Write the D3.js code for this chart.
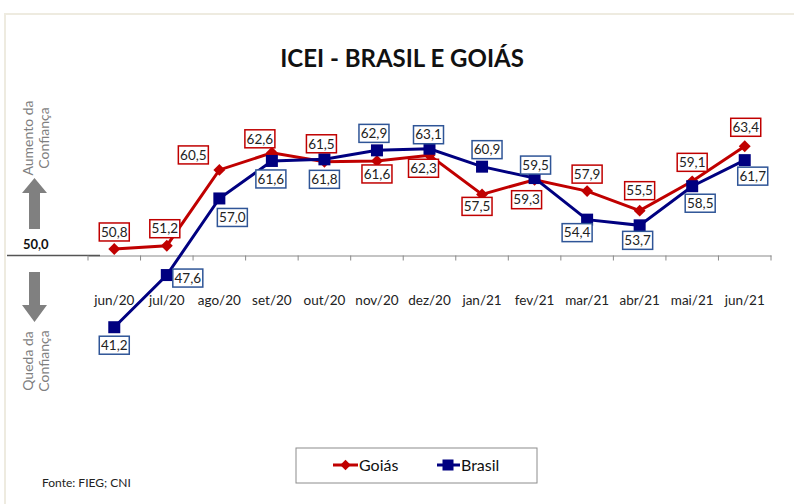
<!DOCTYPE html>
<html>
<head>
<meta charset="UTF-8">
<title>ICEI - Brasil e Goiás</title>
<style>
  body { margin: 0; background: #fff; }
  svg { display: block; font-family: Lato, "Open Sans", sans-serif; }
</style>
</head>
<body>
<script src="https://cdn.jsdelivr.net/npm/d3@7"></script>
<script>
// dados
var months = ["jun/20","jul/20","ago/20","set/20","out/20","nov/20","dez/20","jan/21","fev/21","mar/21","abr/21","mai/21","jun/21"]
var goias  = [50.8, 51.2, 60.5, 62.6, 61.5, 61.6, 62.3, 57.5, 59.3, 57.9, 55.5, 59.1, 63.4]
var brasil = [41.2, 47.6, 57.0, 61.6, 61.8, 62.9, 63.1, 60.9, 59.5, 54.4, 53.7, 58.5, 61.7]
var baseLine = 50

// deslocamento das etiquetas (layout, nao dados)
var goiasLabelPos  = [[0,-17],[-2,-17],[-26,-15],[-12,-14],[-3,-18],[0,13],[-6,13],[-5,12],[-8,20],[0,-17],[0,-20],[0,-19],[1,-19]]
var brasilLabelPos = [[0,18],[21,3],[13,19],[-1,18],[0,20],[-3,-17],[-1,-14],[5,-17],[1,-13],[-10,13],[-2,15],[8,17],[8,16]]

var width = 794, height = 504
var red = "#c00000", navy = "#000080"

var svg = d3.select("body").append("svg")
    .attr("width", width)
    .attr("height", height)

// moldura bege
svg.append("path")
    .attr("d", "M5,504 V14 H794")
    .attr("fill", "none")
    .attr("stroke", "#eeebe0")
    .attr("stroke-width", 2)

// titulo
svg.append("text")
    .attr("x", 402).attr("y", 67)
    .attr("text-anchor", "middle")
    .attr("font-size", "24px")
    .attr("font-weight", "bold")
    .attr("fill", "#111")
    .text("ICEI - BRASIL E GOIÁS")

// escalas
var x = d3.scaleBand().domain(months).range([88, 771])
var y = d3.scaleLinear().domain([40, 65]).range([337, 133.25])
var cx = function(d, i) { return x(months[i]) + x.bandwidth() / 2 }

// eixo em 50
var axisG = svg.append("g")
    .attr("transform", "translate(0," + y(baseLine) + ")")
    .call(d3.axisBottom(x).tickSize(0).tickPadding(40))
axisG.select(".domain").attr("stroke", "#8a8a8a").attr("stroke-width", 1.2)
axisG.selectAll("text")
    .attr("font-family", "Lato, 'Open Sans', sans-serif")
    .attr("font-size", "13.5px")
    .attr("fill", "#222")

svg.append("line")
    .attr("x1", 7).attr("x2", 100)
    .attr("y1", y(baseLine)).attr("y2", y(baseLine))
    .attr("stroke", "#555").attr("stroke-width", 1.5)

svg.selectAll(".tick-mark")
    .data(months.concat(["end"]))
    .enter().append("line")
    .attr("class", "tick-mark")
    .attr("x1", function(d, i) { return i < months.length ? x(d) : x.range()[1] })
    .attr("x2", function(d, i) { return i < months.length ? x(d) : x.range()[1] })
    .attr("y1", y(baseLine)).attr("y2", y(baseLine) + 5)
    .attr("stroke", "#8a8a8a")

svg.append("text")
    .attr("x", 23).attr("y", 249)
    .attr("font-size", "13px").attr("font-weight", "bold")
    .attr("fill", "#111")
    .text("50,0")

// setas
svg.append("path")
    .attr("d", "M29,229 V193 H22 L34.5,178 L47,193 H40 V229 Z")
    .attr("fill", "#808080")
svg.append("path")
    .attr("d", "M29,272 V305 H22 L34.5,322 L47,305 H40 V272 Z")
    .attr("fill", "#808080")

function sideText(cy, lines) {
    var g = svg.append("g").attr("fill", "#7f7f7f").attr("font-size", "14px")
    g.append("text").attr("transform", "translate(33," + cy + ") rotate(-90)")
        .attr("text-anchor", "middle").text(lines[0])
    g.append("text").attr("transform", "translate(49," + cy + ") rotate(-90)")
        .attr("text-anchor", "middle").text(lines[1])
}
sideText(138, ["Aumento da", "Confiança"])
sideText(361, ["Queda da", "Confiança"])

// linhas
var line = d3.line().x(cx).y(function(d) { return y(d) })

svg.append("path").datum(goias)
    .attr("d", line).attr("fill", "none")
    .attr("stroke", red).attr("stroke-width", 3)
svg.append("path").datum(brasil)
    .attr("d", line).attr("fill", "none")
    .attr("stroke", navy).attr("stroke-width", 3)

svg.selectAll(".mk-goias").data(goias).enter().append("path")
    .attr("class", "mk-goias")
    .attr("d", d3.symbol().type(d3.symbolDiamond2).size(90))
    .attr("transform", function(d, i) { return "translate(" + cx(d, i) + "," + y(d) + ")" })
    .attr("fill", red)
svg.selectAll(".mk-brasil").data(brasil).enter().append("rect")
    .attr("class", "mk-brasil")
    .attr("x", function(d, i) { return cx(d, i) - 6 })
    .attr("y", function(d) { return y(d) - 6 })
    .attr("width", 12).attr("height", 12)
    .attr("fill", navy)

// etiquetas
function labels(data, pos, stroke) {
    var g = svg.append("g").selectAll("g").data(data).enter().append("g")
        .attr("transform", function(d, i) {
            return "translate(" + (cx(d, i) + pos[i][0]) + "," + (y(d) + pos[i][1]) + ")"
        })
    g.append("rect")
        .attr("x", -15).attr("y", -9).attr("width", 30).attr("height", 18)
        .attr("fill", "#fff").attr("stroke", stroke).attr("stroke-width", 1.5)
    g.append("text")
        .attr("text-anchor", "middle").attr("dy", "0.35em")
        .attr("font-size", "13.5px").attr("fill", "#222")
        .text(function(d) { return d3.format(".1f")(d).replace(".", ",") })
}
labels(goias, goiasLabelPos, red)
labels(brasil, brasilLabelPos, "#2f5597")

// legenda
var leg = svg.append("g")
leg.append("rect")
    .attr("x", 296).attr("y", 448).attr("width", 241).attr("height", 35)
    .attr("fill", "#fff").attr("stroke", "#8c8c8c")
leg.append("line").attr("x1", 333).attr("x2", 358).attr("y1", 465).attr("y2", 465)
    .attr("stroke", red).attr("stroke-width", 3)
leg.append("path").attr("d", d3.symbol().type(d3.symbolDiamond2).size(70))
    .attr("transform", "translate(345.5,465)").attr("fill", red)
leg.append("text").attr("x", 359).attr("y", 471).attr("font-size", "16px").attr("fill", "#111").text("Goiás")
leg.append("line").attr("x1", 437).attr("x2", 460).attr("y1", 465).attr("y2", 465)
    .attr("stroke", navy).attr("stroke-width", 3)
leg.append("rect").attr("x", 442.5).attr("y", 459.5).attr("width", 11).attr("height", 11).attr("fill", navy)
leg.append("text").attr("x", 461).attr("y", 471).attr("font-size", "16px").attr("fill", "#111").text("Brasil")

// fonte
svg.append("text")
    .attr("x", 42).attr("y", 487)
    .attr("font-size", "12px").attr("fill", "#222")
    .text("Fonte: FIEG; CNI")
</script>
</body>
</html>
